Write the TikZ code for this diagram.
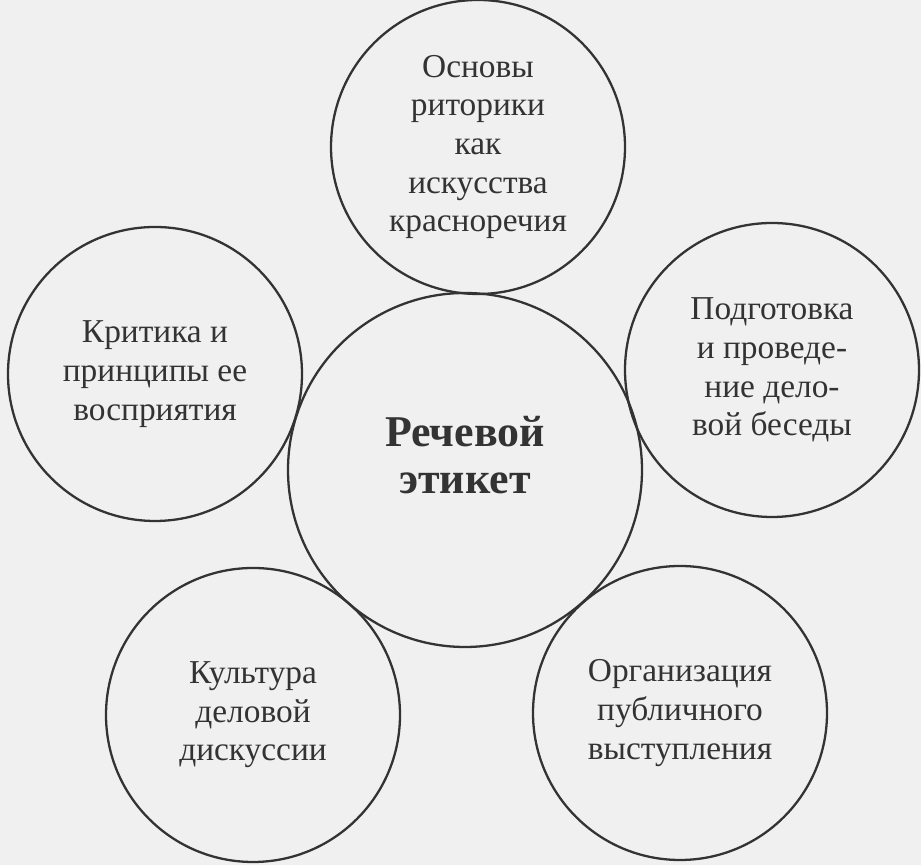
\documentclass[tikz,border=0pt]{standalone}
\usepackage{fontspec}
\setmainfont{Liberation Serif}
\usepackage{tikz}

\begin{document}
\begin{tikzpicture}[
        topic/.style={circle, draw=black!80, line width=1.3pt, minimum size=5.88cm, inner sep=0pt, align=center, text=black!80, font=\fontsize{19}{22}\selectfont},
        core/.style={topic, minimum size=7.08cm},
        coretext/.style={align=center, yshift=0.3cm, text=black!80, font=\fontsize{25}{27}\selectfont\bfseries}
    ]
        % Background
        \fill[black!6] (0,0) rectangle (18.42,17.3);
        \useasboundingbox (0,0) rectangle (18.42,17.3);

        % Centre
        \node[core, label={[coretext]center:{Речевой\\этикет}}] (etiquette) at (9.30, 7.90) {};

        % Surrounding circles
        \node[topic] (rhetoric) at (9.56, 14.36) {Основы\\риторики\\как\\искусства\\красноречия};
        \node[topic] (criticism) at (3.10, 9.82) {Критика и\\принципы ее\\восприятия};
        \node[topic] (conversation) at (15.44, 9.90) {Подготовка\\и проведе-\\ние дело-\\вой беседы};
        \node[topic] (discussion) at (5.06, 3.00) {Культура\\деловой\\дискуссии};
        \node[topic] (speech) at (13.60, 3.04) {Организация\\публичного\\выступления};

    \end{tikzpicture}
\end{document}
